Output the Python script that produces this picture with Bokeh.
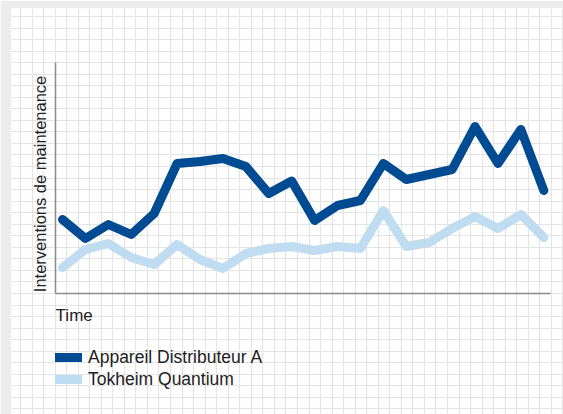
import math
from bokeh.plotting import figure
from bokeh.models import (Range1d, LinearAxis, Grid, SingleIntervalTicker, FixedTicker,
                          Label, Legend, LegendItem, ColumnDataSource)
from bokeh.embed import file_html
from bokeh.resources import INLINE

# ---- data ----
periods = list(range(22))
distributeur_a = [7.4, 5.5, 6.9, 5.9, 8.0, 13.0, 13.2, 13.5, 12.7, 10.0, 11.25,
                  7.3, 8.8, 9.3, 13.0, 11.4, 11.9, 12.4, 16.7, 13.0, 16.4, 10.3]
tokheim_quantium = [2.6, 4.4, 5.0, 3.6, 2.9, 4.9, 3.4, 2.5, 4.0, 4.5, 4.7,
                    4.3, 4.7, 4.5, 8.3, 4.7, 5.1, 6.5, 7.7, 6.5, 7.9, 5.6]
series_names = ["Appareil Distributeur A", "Tokheim Quantium"]
x_title = "Time"
y_title = "Interventions de maintenance"
y_axis_top = 23.1

# ---- styles ----
FONT = "Liberation Sans"
TEXT = "#222222"
DARK = "#004b91"
LIGHT = "#c0dcf0"
AXIS = "#8c8c8c"
PAPER = "#e4e4e4"

W, H = 563, 414
LEFT, TOP = 11, 8
FW, FH = W - LEFT, H - TOP
xr = Range1d(-2.225, 21.859)
yr = Range1d(-12.1, 28.5)
px_per_x = FW / (xr.end - xr.start)
px_per_y = FH / (yr.end - yr.start)

p = figure(width=W, height=H, output_backend="svg", toolbar_location=None,
           x_axis_type=None, y_axis_type=None, x_range=xr, y_range=yr,
           min_border_left=LEFT, min_border_top=TOP, min_border_right=0, min_border_bottom=0,
           outline_line_color=None,
           background_fill_color="white", border_fill_color="#ececec")

# graph-paper background (screen-spaced grid)
cell = 11.54
p.extra_x_ranges = {"paper": Range1d(2.54, FW + 2.54)}
p.extra_y_ranges = {"paper": Range1d(FH + 3.54, 3.54)}
for dim in (0, 1):
    g = Grid(dimension=dim, ticker=SingleIntervalTicker(interval=cell),
             x_range_name="paper", y_range_name="paper",
             grid_line_color=PAPER, grid_line_width=1.2)
    p.add_layout(g)

x_lo, x_hi = periods[0] - 0.3, periods[-1] + 0.3

xaxis = LinearAxis(fixed_location=0, bounds=(x_lo, x_hi), ticker=FixedTicker(ticks=[]),
                   axis_line_color=AXIS, axis_line_width=1.5,
                   major_tick_line_color=None, minor_tick_line_color=None,
                   major_label_text_font_size="0px")
yaxis = LinearAxis(fixed_location=x_lo, bounds=(0, y_axis_top), ticker=FixedTicker(ticks=[]),
                   axis_line_color=AXIS, axis_line_width=1.5,
                   major_tick_line_color=None, minor_tick_line_color=None,
                   major_label_text_font_size="0px")
p.add_layout(xaxis, "below")
p.add_layout(yaxis, "left")

p.add_layout(Label(x=x_lo, y=0 - 22 / px_per_y, text=x_title, text_align="left",
                   text_baseline="alphabetic",
                   text_font=FONT, text_font_size="17px", text_color=TEXT))
p.add_layout(Label(x=x_lo - 15.5 / px_per_x, y=0 + 1.3 / px_per_y, text=y_title,
                   angle=math.pi / 2, text_align="left", text_baseline="alphabetic",
                   text_font=FONT, text_font_size="16.5px", text_color=TEXT))

src = ColumnDataSource(dict(period=periods, a=distributeur_a, t=tokheim_quantium))
r_t = p.line("period", "t", source=src, line_color=LIGHT, line_width=9,
             line_cap="round", line_join="round")
r_a = p.line("period", "a", source=src, line_color=DARK, line_width=9,
             line_cap="round", line_join="round")

legend = Legend(items=[LegendItem(label=series_names[0], renderers=[r_a]),
                       LegendItem(label=series_names[1], renderers=[r_t])],
                location=(44, 24), orientation="vertical",
                border_line_color=None, background_fill_alpha=0,
                padding=0, margin=0, spacing=0,
                glyph_width=27, glyph_height=22, label_height=22, label_standoff=6,
                label_text_font=FONT, label_text_font_size="17.5px", label_text_color=TEXT)
p.add_layout(legend)

open("out.html", "w").write(file_html(p, INLINE))
